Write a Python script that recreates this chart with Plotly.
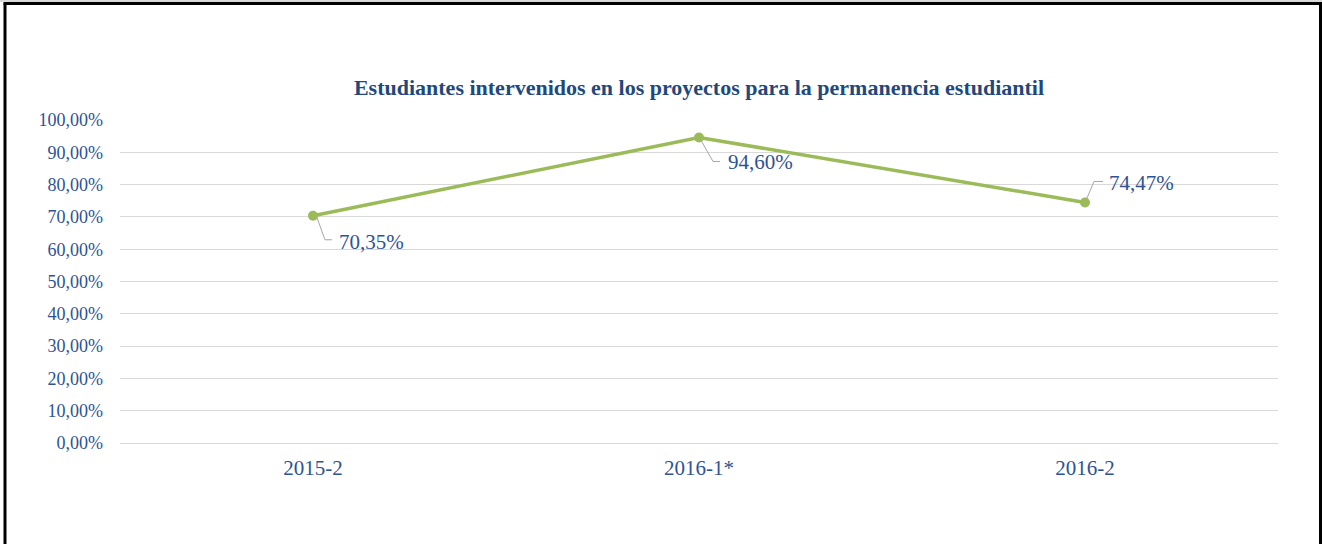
import plotly.graph_objects as go

# Semesters and share of students reached by the retention projects
periodos = ["2015-2", "2016-1*", "2016-2"]
porcentajes = [0.7035, 0.9460, 0.7447]
ticks_y = [0.0, 0.1, 0.2, 0.3, 0.4, 0.5, 0.6, 0.7, 0.8, 0.9, 1.0]

W, H = 1322, 544
ML, MR, MT, MB = 120, 44, 120, 101

# Placement of each data label relative to its point (pixels, y up)
label_offsets = [(24, -26), (27, -25), (22, 19)]
leader_paths = [
    "M 4,-2 L 12,-24 L 19,-24",
    "M 2,-3 L 14,-24 L 21,-24",
    "M 1,2 L 9,21 L 18,21",
]

LINE_GREEN = "#9BBB59"
TEXT_BLUE = "#2E5395"
TITLE_BLUE = "#1F497D"
GRID = "#D9D9D9"
SERIF = "Liberation Serif"

fig = go.Figure()
fig.add_trace(go.Scatter(
    x=periodos,
    y=porcentajes,
    mode="lines+markers",
    line=dict(color=LINE_GREEN, width=3.5),
    marker=dict(color=LINE_GREEN, size=10),
    hoverinfo="skip",
    showlegend=False,
))

for per, val, (dx, dy), path in zip(periodos, porcentajes, label_offsets, leader_paths):
    txt = f"{val * 100:.2f}".replace(".", ",") + "%"
    fig.add_annotation(
        x=per, y=val, xref="x", yref="y",
        text=txt, showarrow=False,
        xanchor="left", yanchor="middle",
        xshift=dx, yshift=dy,
        font=dict(family=SERIF, size=21, color=TEXT_BLUE),
    )
    fig.add_shape(
        type="path", xref="x", yref="y",
        xsizemode="pixel", ysizemode="pixel",
        xanchor=per, yanchor=val,
        path=path,
        line=dict(color="#A6A6A6", width=1),
    )

# Outer frame (left, top and right edges; bottom runs past the page)
pw = W - ML - MR
ph = H - MT - MB

def px_x(p):
    return (p - ML) / pw

def px_y(p):
    return (H - MB - p) / ph

fig.add_shape(type="rect", xref="paper", yref="paper",
              x0=px_x(0), x1=px_x(W), y0=px_y(0), y1=px_y(2),
              fillcolor="#D9D9D9", line=dict(width=0), layer="below")
fig.add_shape(type="line", xref="paper", yref="paper",
              x0=px_x(5), x1=px_x(5), y0=px_y(3.5), y1=px_y(H + 10),
              line=dict(color="black", width=3))
fig.add_shape(type="line", xref="paper", yref="paper",
              x0=px_x(1320.5), x1=px_x(1320.5), y0=px_y(3.5), y1=px_y(H + 10),
              line=dict(color="black", width=3))
fig.add_shape(type="line", xref="paper", yref="paper",
              x0=px_x(3.5), x1=px_x(1322), y0=px_y(3.5), y1=px_y(3.5),
              line=dict(color="black", width=3))

fig.update_layout(
    width=W, height=H,
    margin=dict(l=ML, r=MR, t=MT, b=MB),
    paper_bgcolor="white",
    plot_bgcolor="white",
    separators=",.",
    title=dict(
        text="<b>Estudiantes intervenidos en los proyectos para la permanencia estudiantil</b>",
        x=0.5, xanchor="center", xref="paper",
        y=1 - 87 / H, yanchor="middle", yref="container",
        font=dict(family=SERIF, size=22, color=TITLE_BLUE),
    ),
    xaxis=dict(
        type="category",
        range=[-0.5, 2.5],
        showgrid=False,
        showline=False,
        zeroline=False,
        ticks="",
        ticklabelstandoff=10,
        tickfont=dict(family=SERIF, size=21, color=TEXT_BLUE),
    ),
    yaxis=dict(
        range=[0, 1],
        tickvals=ticks_y,
        tickformat=".2%",
        showgrid=True,
        gridcolor=GRID,
        gridwidth=1,
        zeroline=True,
        zerolinecolor=GRID,
        zerolinewidth=1,
        showline=False,
        ticks="",
        ticklabelstandoff=16,
        tickfont=dict(family=SERIF, size=18, color=TEXT_BLUE),
    ),
)

fig.write_html("out.html")
